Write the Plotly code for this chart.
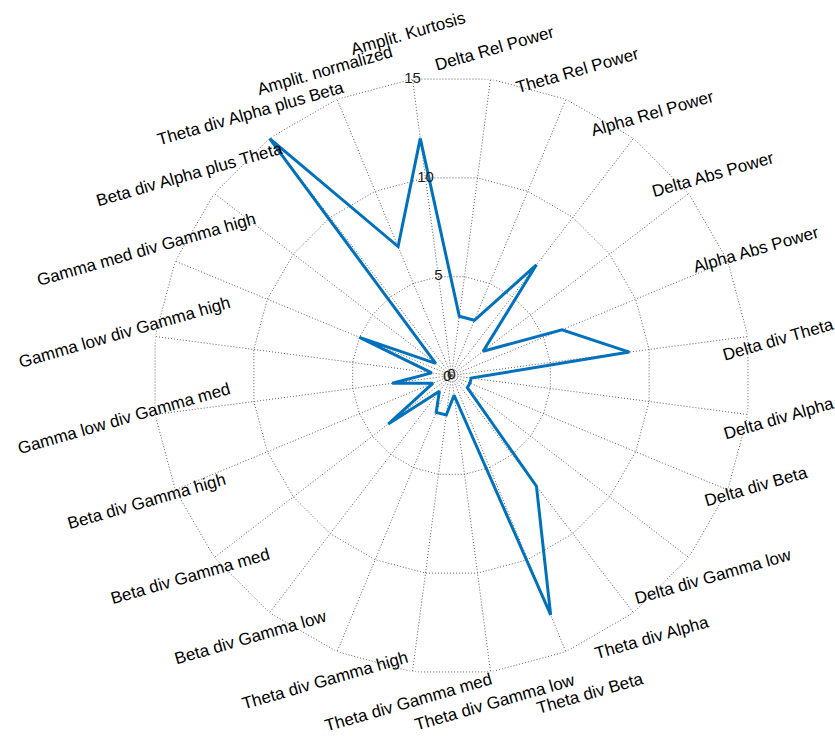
import math
import plotly.graph_objects as go

# Feature names, clockwise from the top spoke
features = [
    "Amplit. Kurtosis", "Delta Rel Power", "Theta Rel Power", "Alpha Rel Power",
    "Delta Abs Power", "Alpha Abs Power", "Delta div Theta", "Delta div Alpha",
    "Delta div Beta", "Delta div Gamma low", "Theta div Alpha", "Theta div Beta",
    "Theta div Gamma low", "Theta div Gamma med", "Theta div Gamma high",
    "Beta div Gamma low", "Beta div Gamma med", "Beta div Gamma high",
    "Gamma low div Gamma med", "Gamma low div Gamma high", "Gamma med div Gamma high",
    "Beta div Alpha plus Theta", "Theta div Alpha plus Beta", "Amplit. normalized",
]
values = [12, 3, 3, 7, 2, 6, 9, 1, 1, 1, 7, 13, 1, 2, 2, 1, 4, 1, 3, 1, 5, 1, 15, 7]
ticks = [0, 5, 10, 15]

# Page geometry (px)
W, H = 835, 736
cx, cy = 451.5, 375.5      # centre of the web
R = 299                    # radius of the outer ring
LABEL_R = 330              # radius where the feature labels sit
START = 97.5               # angle of the first spoke (deg, counter-clockwise from east)
STEP = 360 / len(features)
r_max = ticks[-1]

# small nudges for a few crowded labels (px)
label_nudge = {
    "Amplit. Kurtosis": (0, -15),
    "Delta div Theta": (0, 7),
    "Delta div Beta": (0, -15),
    "Theta div Beta": (12, 13),
}

GRID = "#5e5e5e"
LINE = "#0072BD"
FONT = "Liberation Sans, Arial, Helvetica, sans-serif"

fig = go.Figure()
closed = features + features[:1]

# polygonal rings
for t in ticks[1:]:
    fig.add_trace(go.Scatterpolar(
        r=[t] * len(closed), theta=closed, mode="lines",
        line=dict(color=GRID, width=1, dash="1px,2px"),
        hoverinfo="skip", showlegend=False))

# spokes
for f in features:
    fig.add_trace(go.Scatterpolar(
        r=[0, r_max], theta=[f, f], mode="lines",
        line=dict(color=GRID, width=1, dash="1px,2px"),
        hoverinfo="skip", showlegend=False))

# data polygon
fig.add_trace(go.Scatterpolar(
    r=values + values[:1], theta=closed, mode="lines",
    line=dict(color=LINE, width=3), showlegend=False))

# radial tick labels along the first spoke
fig.add_trace(go.Scatterpolar(
    r=ticks, theta=[features[0]] * len(ticks), mode="text",
    text=[str(t) for t in ticks],
    textfont=dict(family=FONT, size=15, color="#1a1a1a"),
    textposition="middle center", hoverinfo="skip", showlegend=False))

annotations = []
# overlapping zero at the hub
annotations.append(dict(
    x=cx / W, y=1 - cy / H, xref="paper", yref="paper", text="0",
    showarrow=False, xshift=-4, font=dict(family=FONT, size=15, color="#1a1a1a"),
    xanchor="center", yanchor="middle"))

# feature labels, tilted
for i, f in enumerate(features):
    a = math.radians(START - i * STEP)
    dx, dy = label_nudge.get(f, (0, 0))
    px = cx + LABEL_R * math.cos(a) + dx
    py = cy - LABEL_R * math.sin(a) + dy
    annotations.append(dict(
        x=px / W, y=1 - py / H, xref="paper", yref="paper", text=f,
        showarrow=False, textangle=-16, xanchor="center", yanchor="middle",
        font=dict(family=FONT, size=17, color="#000000")))

fig.update_layout(
    width=W, height=H,
    margin=dict(l=0, r=0, t=0, b=0),
    paper_bgcolor="white",
    polar=dict(
        domain=dict(x=[(cx - R) / W, (cx + R) / W],
                    y=[1 - (cy + R) / H, 1 - (cy - R) / H]),
        bgcolor="white",
        radialaxis=dict(range=[0, r_max], visible=False),
        angularaxis=dict(type="category", categoryarray=features,
                         rotation=START, direction="clockwise", visible=False),
    ),
    annotations=annotations,
)

fig.write_html("out.html")
